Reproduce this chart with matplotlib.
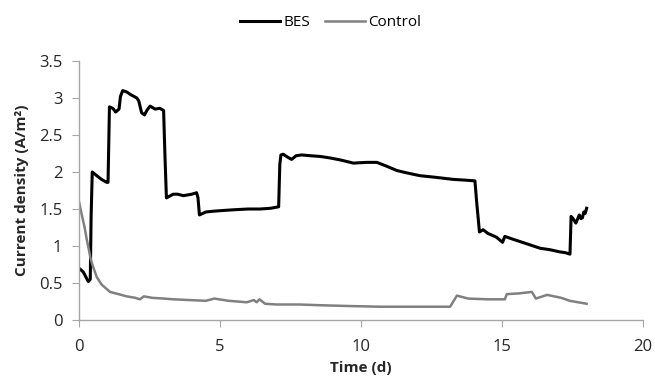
import numpy as np
import matplotlib
matplotlib.use("Agg")
import matplotlib.pyplot as plt

# BES current density
bes_t = [0.0, 0.15, 0.33, 0.40, 0.43, 0.47, 0.63, 0.8, 0.98, 1.03, 1.08, 1.2, 1.3, 1.42, 1.47, 1.55,
         1.7, 1.81, 2.05, 2.12, 2.22, 2.32, 2.42, 2.52, 2.7, 2.87, 3.0, 3.05, 3.1, 3.34, 3.5, 3.7,
         4.0, 4.17, 4.22, 4.27, 4.5, 4.76, 5.1, 5.5, 6.0, 6.42, 6.8, 7.08, 7.12, 7.16, 7.24, 7.4,
         7.54, 7.7, 7.9, 8.2, 8.55, 8.9, 9.3, 9.73, 10.2, 10.56, 10.9, 11.27, 11.6, 12.09, 12.6,
         13.27, 13.7, 14.04, 14.1, 14.2, 14.33, 14.5, 14.8, 15.02, 15.1, 15.4, 15.8, 16.35, 16.7,
         17.06, 17.25, 17.41, 17.45, 17.5, 17.62, 17.74, 17.8, 17.85, 17.9, 17.95, 18.0]
bes_j = [0.70, 0.65, 0.52, 0.55, 1.40, 2.00, 1.95, 1.90, 1.86, 1.86, 2.88, 2.86, 2.81, 2.85, 3.02, 3.10,
         3.08, 3.05, 3.00, 2.96, 2.80, 2.77, 2.84, 2.89, 2.85, 2.86, 2.83, 2.20, 1.65, 1.70, 1.70, 1.68,
         1.70, 1.72, 1.65, 1.42, 1.46, 1.47, 1.48, 1.49, 1.50, 1.50, 1.51, 1.53, 2.10, 2.23, 2.24, 2.20,
         2.17, 2.22, 2.23, 2.22, 2.21, 2.19, 2.16, 2.12, 2.13, 2.13, 2.08, 2.02, 1.99, 1.95, 1.93,
         1.90, 1.89, 1.88, 1.60, 1.19, 1.22, 1.17, 1.12, 1.05, 1.13, 1.09, 1.04, 0.97, 0.95,
         0.92, 0.91, 0.89, 1.40, 1.38, 1.31, 1.42, 1.37, 1.38, 1.46, 1.44, 1.51]

# Control current density
ctl_t = [0.0, 0.1, 0.2, 0.27, 0.35, 0.41, 0.5, 0.63, 0.8, 1.1, 1.4, 1.69, 2.0, 2.16, 2.3, 2.6,
         3.0, 3.35, 3.9, 4.5, 4.8, 5.3, 5.95, 6.2, 6.3, 6.4, 6.6, 7.0, 7.8, 8.55, 9.5, 10.67,
         12.0, 13.16, 13.4, 13.8, 14.5, 15.1, 15.17, 15.6, 16.06, 16.2, 16.6, 17.1, 17.4, 18.0]
ctl_j = [1.60, 1.42, 1.25, 1.10, 0.95, 0.83, 0.72, 0.58, 0.48, 0.38, 0.35, 0.32, 0.30, 0.28, 0.32, 0.30,
         0.29, 0.28, 0.27, 0.26, 0.29, 0.26, 0.24, 0.27, 0.24, 0.28, 0.22, 0.21, 0.21, 0.20, 0.19, 0.18,
         0.18, 0.18, 0.33, 0.29, 0.28, 0.28, 0.35, 0.36, 0.38, 0.29, 0.34, 0.30, 0.26, 0.22]

x_ticks = [0, 5, 10, 15, 20]
y_ticks = [0, 0.5, 1, 1.5, 2, 2.5, 3, 3.5]
y_tick_labels = ['0', '0.5', '1', '1.5', '2', '2.5', '3', '3.5']

plt.rcParams['font.family'] = ['Open Sans', 'DejaVu Sans']

fig = plt.figure(figsize=(6.55, 3.81), dpi=100)
ax = fig.add_axes([0.1206, 0.160, 0.8611, 0.680])

ax.plot(bes_t, bes_j, color='black', lw=2.2, label='BES', solid_joinstyle='round')
ax.plot(ctl_t, ctl_j, color='#808080', lw=1.8, label='Control')

ax.set_xlim(0, 20)
ax.set_ylim(0, 3.5)
ax.set_xticks(x_ticks)
ax.set_yticks(y_ticks)
ax.set_yticklabels(y_tick_labels)

for s in ['top', 'right']:
    ax.spines[s].set_visible(False)
for s in ['left', 'bottom']:
    ax.spines[s].set_color('#a6a6a6')
    ax.spines[s].set_linewidth(1.0)
ax.tick_params(direction='out', length=5, color='#a6a6a6', labelsize=12, labelcolor='#262626')
ax.tick_params(axis='x', pad=9)
ax.tick_params(axis='y', pad=7)

ax.set_xlabel('Time (d)', fontsize=11, fontweight='bold', color='#262626', labelpad=4)
ax.set_ylabel('Current density (A/m²)', fontsize=11, fontweight='bold', color='#262626', labelpad=7)

fig.legend(*ax.get_legend_handles_labels(), loc='center', bbox_to_anchor=(0.505, 0.94), ncol=2,
           frameon=False, fontsize=11, handlelength=2.6, handletextpad=0.2, columnspacing=1.0)

fig.savefig('out.png', dpi=100)
